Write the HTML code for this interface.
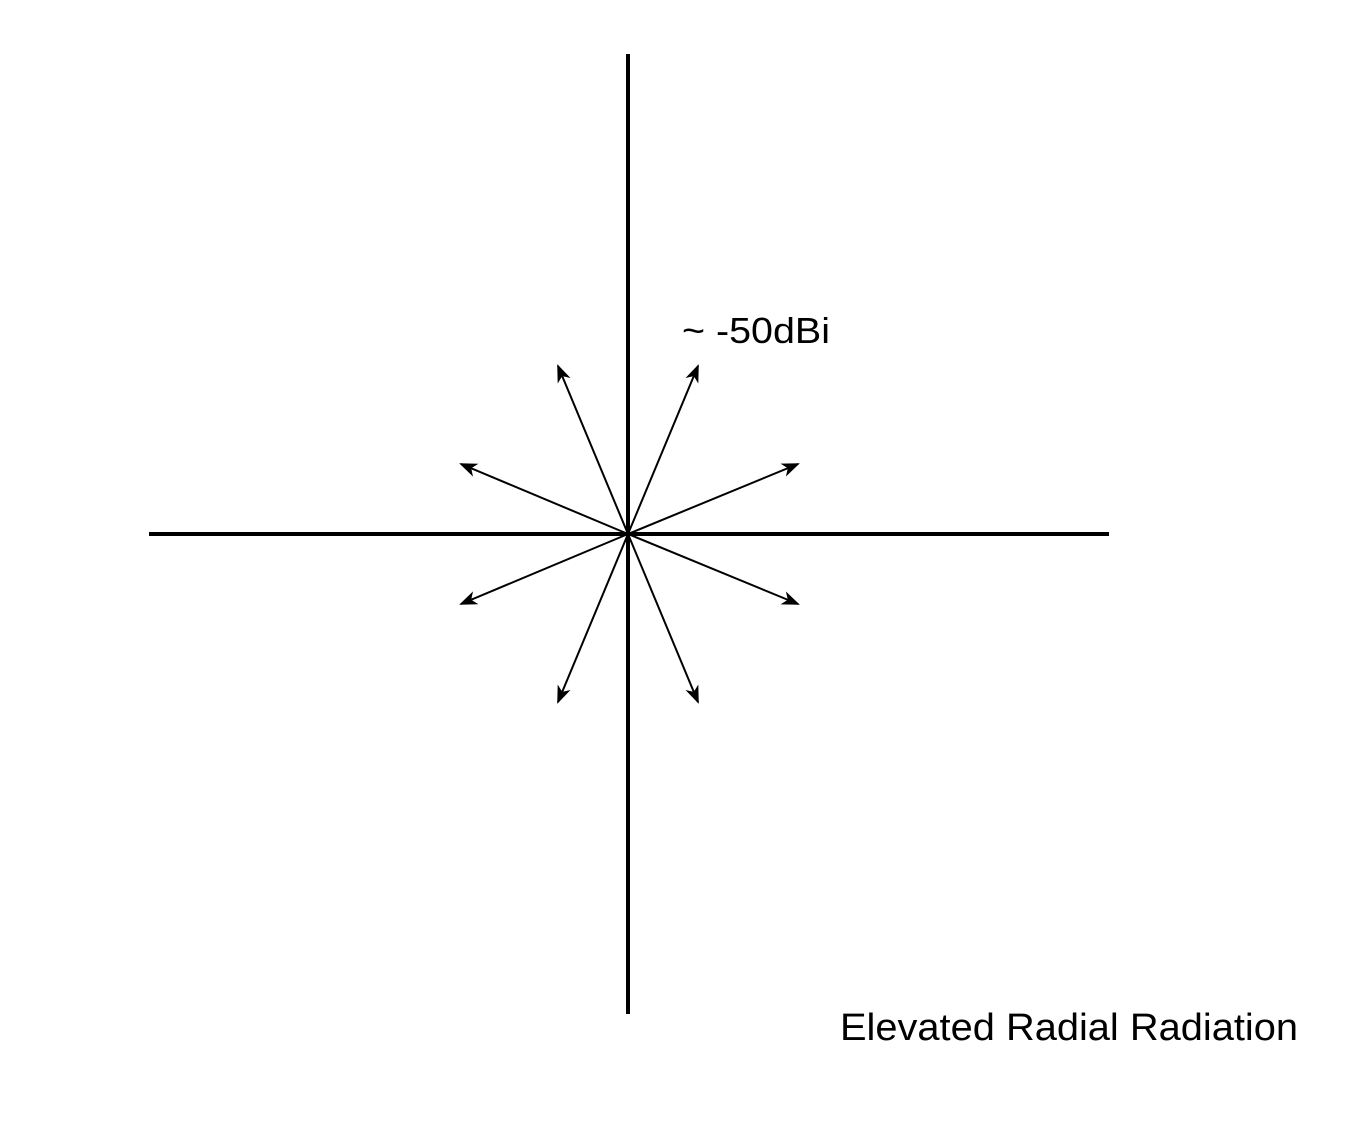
<!DOCTYPE html>
<html><head><style>html,body{margin:0;padding:0;background:#fff}</style></head>
<body>
<svg width="1350" height="1124" xmlns="http://www.w3.org/2000/svg">
<defs>
<marker id="a" markerWidth="18" markerHeight="14" refX="16" refY="7" orient="auto" markerUnits="userSpaceOnUse">
<path d="M0,0 L18,7 L0,14 L5,7 Z" fill="#000"/>
</marker>
</defs>
<line x1="149" y1="534" x2="1109" y2="534" stroke="#000" stroke-width="4"/>
<line x1="628" y1="54" x2="628" y2="1014" stroke="#000" stroke-width="4"/>
<g stroke="#000" stroke-width="2" marker-end="url(#a)">
<line x1="628" y1="534" x2="698" y2="366"/>
<line x1="628" y1="534" x2="558" y2="366"/>
<line x1="628" y1="534" x2="798" y2="464"/>
<line x1="628" y1="534" x2="461" y2="464"/>
<line x1="628" y1="534" x2="798" y2="604"/>
<line x1="628" y1="534" x2="461" y2="604"/>
<line x1="628" y1="534" x2="698" y2="702"/>
<line x1="628" y1="534" x2="558" y2="702"/>
</g>
<text x="682" y="343" font-family="Liberation Sans, sans-serif" font-size="36" textLength="148" lengthAdjust="spacingAndGlyphs">~ -50dBi</text>
<text x="840" y="1040" font-family="Liberation Sans, sans-serif" font-size="38" textLength="458" lengthAdjust="spacingAndGlyphs">Elevated Radial Radiation</text>
</svg>
</body></html>
